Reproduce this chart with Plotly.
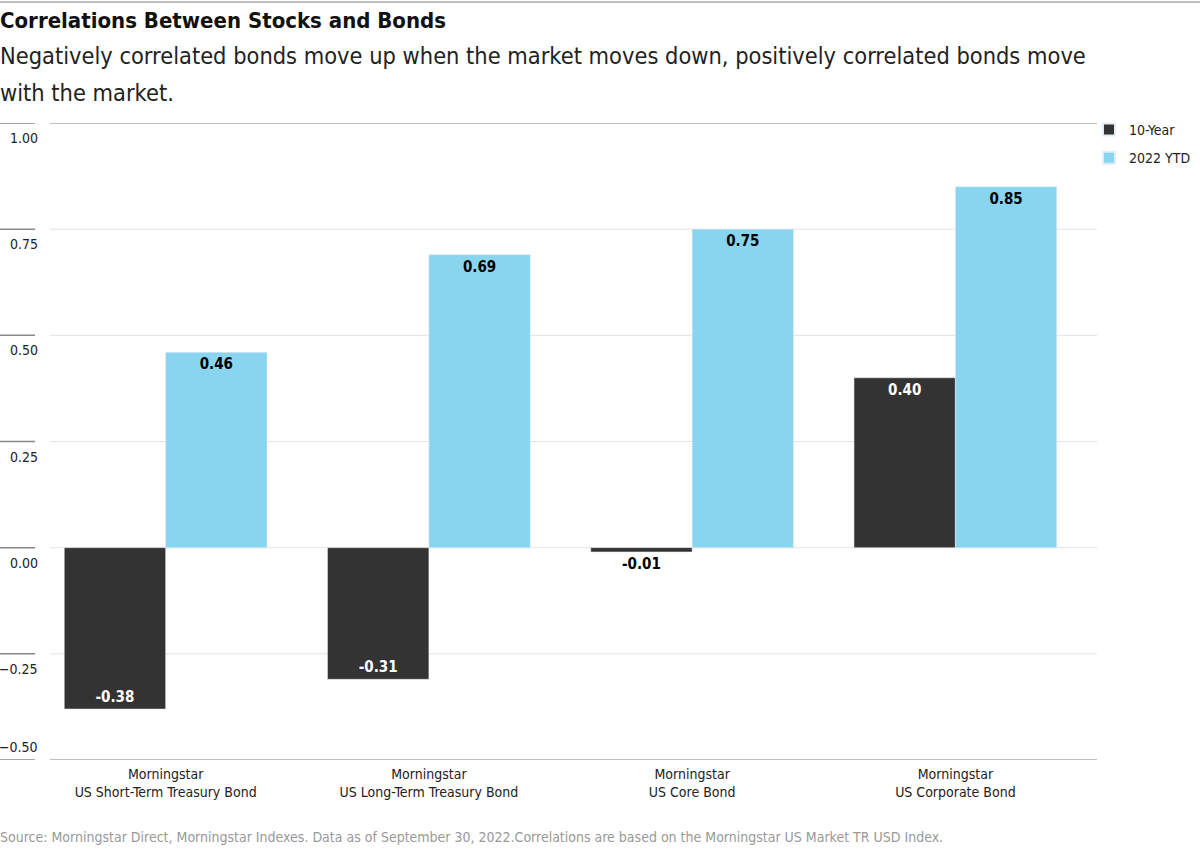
import plotly.graph_objects as go

categories = ["Morningstar<br>US Short-Term Treasury Bond",
              "Morningstar<br>US Long-Term Treasury Bond",
              "Morningstar<br>US Core Bond",
              "Morningstar<br>US Corporate Bond"]
ten_year = [-0.38, -0.31, -0.01, 0.40]
ytd_2022 = [0.46, 0.69, 0.75, 0.85]
tick_vals = [1.00, 0.75, 0.50, 0.25, 0.00, -0.25, -0.50]
tick_text = ["1.00", "0.75", "0.50", "0.25", "0.00", "\u22120.25", "\u22120.50"]
subtitle_lines = ["Negatively correlated bonds move up when the market moves down, positively correlated bonds move",
                  "with the market."]

FONT = "DejaVu Sans Condensed, Liberation Sans Narrow, Roboto, sans-serif"
DARK = "#333333"
BLUE = "#89d5ef"

W, H = 1200, 849
ML, MR, MT, MB = 34, 113, 123, 89
PW = W - ML - MR
PH = H - MT - MB

def px(x):
    return (x - ML) / PW

def py(y):
    return 1 - (y - MT) / PH

fig = go.Figure()
fig.add_trace(go.Bar(
    x=categories, y=ten_year, name="10-Year", marker_color=DARK, legendgroup="a",
    text=[f"{v:.2f}" for v in ten_year],
    textposition=["inside" if abs(v) > 0.05 else "outside" for v in ten_year],
    insidetextanchor="end",
    textfont=dict(family=FONT, size=15,
                  color=["white" if abs(v) > 0.05 else "black" for v in ten_year],
                  weight="bold"),
    cliponaxis=False,
))
fig.add_trace(go.Bar(
    x=categories, y=ytd_2022, name="2022 YTD", marker_color=BLUE, legendgroup="b",
    text=[f"{v:.2f}" for v in ytd_2022],
    textposition="inside", insidetextanchor="end",
    textfont=dict(family=FONT, size=15, color="black", weight="bold"),
    cliponaxis=False,
))

shapes = []
annotations = []
for v, t in zip(tick_vals, tick_text):
    edge = v in (1.00, -0.50)
    shapes.append(dict(type="line", xref="paper", yref="y", x0=px(50), x1=px(1097),
                       y0=v, y1=v,
                       line=dict(color="#aaaaaa" if edge else "#e3e3e3", width=1.5 if edge else 1),
                       layer="below"))
    shapes.append(dict(type="line", xref="paper", yref="y", x0=px(0), x1=px(35),
                       y0=v, y1=v, line=dict(color="#888888", width=1.5)))
    bottom = v == min(tick_vals)
    annotations.append(dict(xref="paper", yref="y", x=px(40), y=v, text=t, showarrow=False,
                            xanchor="right", yanchor="bottom" if bottom else "top",
                            yshift=3 if bottom else -5,
                            font=dict(family=FONT, size=14, color="#222222")))

# top rule
shapes.append(dict(type="line", xref="paper", yref="paper", x0=px(0), x1=px(1200),
                   y0=py(2), y1=py(2), line=dict(color="#aaaaaa", width=1.5)))

annotations.append(dict(xref="paper", yref="paper", x=px(-2), y=py(6), xanchor="left", yanchor="top",
                        text="<b>Correlations Between Stocks and Bonds</b>", showarrow=False,
                        font=dict(family=FONT, size=22, color="#111111")))
for i, line in enumerate(subtitle_lines):
    annotations.append(dict(xref="paper", yref="paper", x=px(-2), y=py(40 + 37 * i),
                            xanchor="left", yanchor="top", align="left", text=line,
                            showarrow=False, font=dict(family=FONT, size=23.4, color="#222222")))
annotations.append(dict(xref="paper", yref="paper", x=px(-2), y=py(827), xanchor="left", yanchor="top",
                        text="Source: Morningstar Direct, Morningstar Indexes. Data as of September 30, 2022.Correlations are based on the Morningstar US Market TR USD Index.",
                        showarrow=False, font=dict(family=FONT, size=14, color="#999999")))

fig.update_layout(
    width=W, height=H, margin=dict(l=ML, r=MR, t=MT, b=MB, autoexpand=False),
    paper_bgcolor="white", plot_bgcolor="white",
    barmode="group", bargap=0.23, bargroupgap=0,
    font=dict(family=FONT, size=14, color="#222222"),
    xaxis=dict(showgrid=False, showline=False, ticks="", ticklen=0, ticklabelstandoff=4,
               tickfont=dict(family=FONT, size=14, color="#222222")),
    yaxis=dict(range=[-0.5, 1.0], tickvals=tick_vals, showticklabels=False, showgrid=False,
               zeroline=False, showline=False),
    legend=dict(x=px(1196), y=py(114), xanchor="right", yanchor="top", font=dict(family=FONT, size=14),
                itemsizing="constant", tracegroupgap=7, bgcolor="rgba(0,0,0,0)"),
    shapes=shapes, annotations=annotations, showlegend=True,
)

post = ("document.documentElement.style.margin='0';document.body.style.margin='0';"
        "document.body.style.overflow='hidden';")

fig.write_html("out.html", config={"responsive": False, "displayModeBar": False}, post_script=post)
